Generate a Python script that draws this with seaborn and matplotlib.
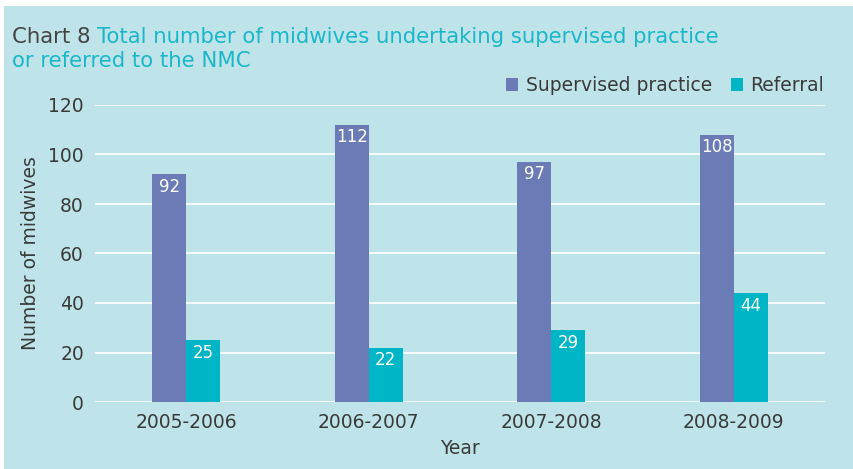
import matplotlib
matplotlib.use("Agg")
import matplotlib.pyplot as plt
from matplotlib.patches import FancyBboxPatch, Patch
import seaborn as sns
import pandas as pd

years = ["2005-2006", "2006-2007", "2007-2008", "2008-2009"]
supervised = [92, 112, 97, 108]
referral = [25, 22, 29, 44]
series_names = ["Supervised practice", "Referral"]
y_ticks = [0, 20, 40, 60, 80, 100, 120]

BG = "#bee4ea"
C_SUP = "#6a7bb6"
C_REF = "#00b6c6"
TEAL = "#1bb7c9"
TXT = "#3a3a3a"

df = pd.DataFrame({
    "Year": years * 2,
    "Series": [series_names[0]] * len(years) + [series_names[1]] * len(years),
    "Value": supervised + referral,
})

sns.set_theme(style="white")
plt.rcParams["font.family"] = ["DejaVu Sans"]

fig = plt.figure(figsize=(8.54, 4.69), dpi=100, facecolor="white")
W, H = 854, 469
fig.patches.append(FancyBboxPatch((4 / W, 0), 1 - 4 / W, 1 - 6 / H,
                                  boxstyle="square,pad=0", transform=fig.transFigure,
                                  facecolor=BG, edgecolor="none", zorder=-10))

ax = fig.add_axes([95 / W, (H - 402) / H, (825 - 95) / W, (402 - 105) / H])
ax.set_facecolor(BG)

sns.barplot(data=df, x="Year", y="Value", hue="Series", hue_order=series_names,
            palette=[C_SUP, C_REF], width=0.37, gap=0, ax=ax, legend=False,
            saturation=1, edgecolor="none", linewidth=0)

for cont in ax.containers:
    ax.bar_label(cont, padding=-15.5, color="white", fontsize=12)

ax.set_ylim(0, 120)
ax.set_xlim(-0.5, 3.5)
ax.set_yticks(y_ticks)
ax.grid(axis="y", color="white", linewidth=1.2)
ax.set_axisbelow(True)
for s in ax.spines.values():
    s.set_visible(False)
ax.tick_params(axis="both", length=0, labelsize=13.5, colors=TXT, pad=8)
ax.set_xlabel("Year", fontsize=13.5, color=TXT, labelpad=5)
ax.set_ylabel("Number of midwives", fontsize=13.5, color=TXT, labelpad=6)

# Title in two colours
fig.canvas.draw()
t1 = fig.text(12 / W, 1 - 43 / H, "Chart 8 ", fontsize=15.3, color="#444444")
r = fig.canvas.get_renderer()
bb = t1.get_window_extent(r)
fig.text(bb.x1 / W, 1 - 43 / H, "Total number of midwives undertaking supervised practice",
         fontsize=15.3, color=TEAL)
fig.text(12 / W, 1 - 67 / H, "or referred to the NMC", fontsize=15.3, color=TEAL)

handles = [Patch(facecolor=C_SUP, edgecolor="none"), Patch(facecolor=C_REF, edgecolor="none")]
fig.legend(handles, series_names, loc="lower right", bbox_to_anchor=(824 / W, 1 - 95 / H),
           ncol=2, frameon=False, fontsize=13.5, handlelength=0.65, handleheight=0.65,
           handletextpad=0.4, columnspacing=1.0, labelcolor=TXT, borderaxespad=0,
           borderpad=0)

fig.savefig("out.png", dpi=100, facecolor="white")
